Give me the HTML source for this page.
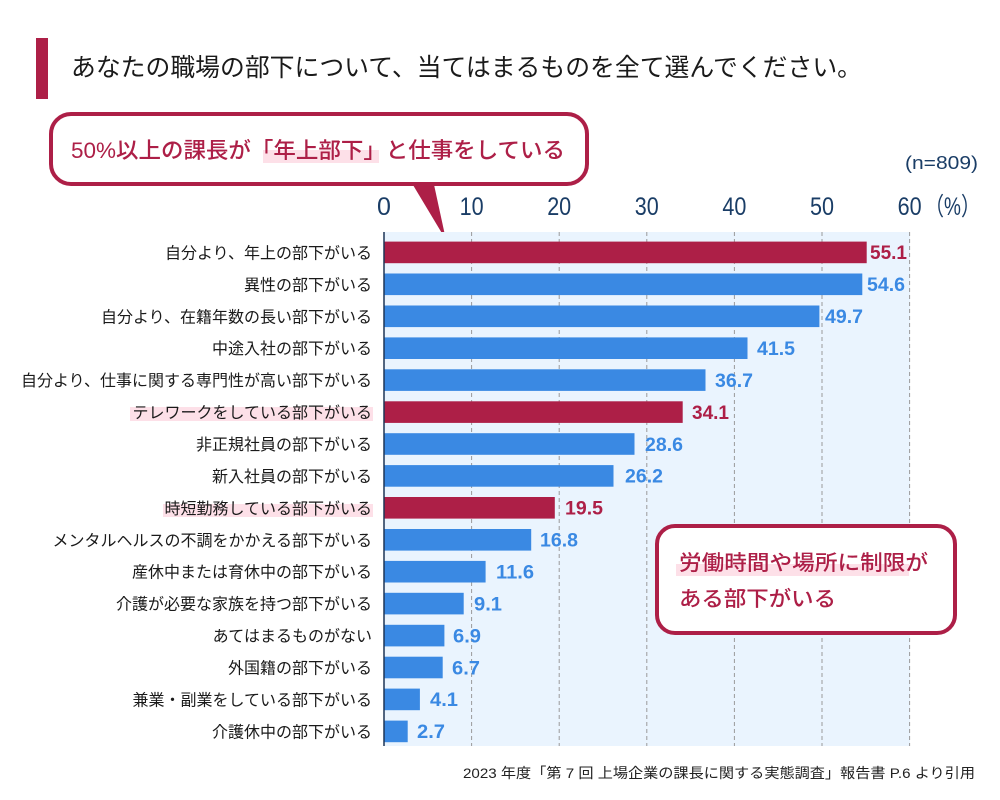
<!DOCTYPE html>
<html>
<head>
<meta charset="utf-8">
<style>
  html,body{margin:0;padding:0;background:#fff;}
  svg{display:block;}
  .jp{font-family:"Liberation Sans","Noto Sans CJK JP",sans-serif;}
  .num{font-family:"Liberation Sans","Noto Sans CJK JP",sans-serif;}
</style>
</head>
<body>
<svg width="1000" height="800" viewBox="0 0 1000 800" xmlns="http://www.w3.org/2000/svg">
  <rect x="0" y="0" width="1000" height="800" fill="#ffffff"/>

  <!-- Title -->
  <rect x="36" y="38" width="12" height="61" fill="#ad1f47"/>
  <text class="jp" x="71" y="76" font-size="25" fill="#1a1a1a" textLength="791" lengthAdjust="spacingAndGlyphs">あなたの職場の部下について、当てはまるものを全て選んでください。</text>

  <!-- Callout 1 -->
  <polygon points="410,180 433,180 446,240" fill="#ad1f47"/>
  <rect x="51" y="114" width="536" height="70" rx="20" ry="20" fill="#ffffff" stroke="#ad1f47" stroke-width="4"/>
  <polygon points="412,184 431,184 433,186" fill="#ad1f47"/>
  <rect x="263" y="150" width="116" height="13" fill="#fde0e8"/>
  <text class="jp" x="71" y="158" font-size="22" font-weight="500" fill="#ad1f47" textLength="494" lengthAdjust="spacingAndGlyphs">50%以上の課長が「年上部下」と仕事をしている</text>

  <!-- n -->
  <text class="num" x="905" y="169" font-size="18" fill="#1a3d66" textLength="73" lengthAdjust="spacingAndGlyphs">(n=809)</text>

  <!-- Tick labels -->
  <g class="num" font-size="25" fill="#1a3d66" text-anchor="middle">
    <text x="384" y="215">0</text>
    <text x="471.6" y="215" textLength="24" lengthAdjust="spacingAndGlyphs">10</text>
    <text x="559.2" y="215" textLength="24" lengthAdjust="spacingAndGlyphs">20</text>
    <text x="646.8" y="215" textLength="24" lengthAdjust="spacingAndGlyphs">30</text>
    <text x="734.4" y="215" textLength="24" lengthAdjust="spacingAndGlyphs">40</text>
    <text x="822" y="215" textLength="24" lengthAdjust="spacingAndGlyphs">50</text>
    <text x="909.6" y="215" textLength="24" lengthAdjust="spacingAndGlyphs">60</text>
  </g>
  <text class="jp" x="925" y="215" font-size="25" fill="#1a3d66" textLength="55" lengthAdjust="spacingAndGlyphs">（%）</text>

  <!-- Plot background -->
  <rect x="384" y="232" width="526" height="514" fill="#eaf4fe"/>
  <g stroke="#9a9a9a" stroke-width="1" stroke-dasharray="4,3">
    <line x1="471.6" y1="232" x2="471.6" y2="746"/>
    <line x1="559.2" y1="232" x2="559.2" y2="746"/>
    <line x1="646.8" y1="232" x2="646.8" y2="746"/>
    <line x1="734.4" y1="232" x2="734.4" y2="746"/>
    <line x1="822" y1="232" x2="822" y2="746"/>
    <line x1="909.6" y1="232" x2="909.6" y2="746"/>
  </g>

  <!-- Bars -->
  <g>
    <rect x="384" y="241.6" width="482.7" height="21.6" fill="#ad1f47"/>
    <rect x="384" y="273.5" width="478.3" height="21.6" fill="#3a89e3"/>
    <rect x="384" y="305.5" width="435.4" height="21.6" fill="#3a89e3"/>
    <rect x="384" y="337.4" width="363.5" height="21.6" fill="#3a89e3"/>
    <rect x="384" y="369.3" width="321.5" height="21.6" fill="#3a89e3"/>
    <rect x="384" y="401.3" width="298.7" height="21.6" fill="#ad1f47"/>
    <rect x="384" y="433.2" width="250.5" height="21.6" fill="#3a89e3"/>
    <rect x="384" y="465.1" width="229.5" height="21.6" fill="#3a89e3"/>
    <rect x="384" y="497.0" width="170.8" height="21.6" fill="#ad1f47"/>
    <rect x="384" y="529.0" width="147.2" height="21.6" fill="#3a89e3"/>
    <rect x="384" y="560.9" width="101.6" height="21.6" fill="#3a89e3"/>
    <rect x="384" y="592.8" width="79.7" height="21.6" fill="#3a89e3"/>
    <rect x="384" y="624.8" width="60.4" height="21.6" fill="#3a89e3"/>
    <rect x="384" y="656.7" width="58.7" height="21.6" fill="#3a89e3"/>
    <rect x="384" y="688.6" width="35.9" height="21.6" fill="#3a89e3"/>
    <rect x="384" y="720.6" width="23.7" height="21.6" fill="#3a89e3"/>
  </g>

  <!-- Axis line -->
  <line x1="384" y1="232" x2="384" y2="746" stroke="#1d3557" stroke-width="1.5"/>

  <!-- Value labels -->
  <g class="num" font-size="19" font-weight="bold">
    <text x="870" y="259.2" fill="#ad1f47" textLength="37" lengthAdjust="spacingAndGlyphs">55.1</text>
    <text x="867" y="291.1" fill="#3a89e3" textLength="38" lengthAdjust="spacingAndGlyphs">54.6</text>
    <text x="825" y="323.1" fill="#3a89e3" textLength="38" lengthAdjust="spacingAndGlyphs">49.7</text>
    <text x="757" y="355.0" fill="#3a89e3" textLength="38" lengthAdjust="spacingAndGlyphs">41.5</text>
    <text x="715" y="386.9" fill="#3a89e3" textLength="38" lengthAdjust="spacingAndGlyphs">36.7</text>
    <text x="692" y="418.9" fill="#ad1f47" textLength="37" lengthAdjust="spacingAndGlyphs">34.1</text>
    <text x="645" y="450.8" fill="#3a89e3" textLength="38" lengthAdjust="spacingAndGlyphs">28.6</text>
    <text x="625" y="482.7" fill="#3a89e3" textLength="38" lengthAdjust="spacingAndGlyphs">26.2</text>
    <text x="565" y="514.6" fill="#ad1f47" textLength="38" lengthAdjust="spacingAndGlyphs">19.5</text>
    <text x="540" y="546.6" fill="#3a89e3" textLength="38" lengthAdjust="spacingAndGlyphs">16.8</text>
    <text x="496" y="578.5" fill="#3a89e3" textLength="38" lengthAdjust="spacingAndGlyphs">11.6</text>
    <text x="474" y="610.4" fill="#3a89e3" textLength="28" lengthAdjust="spacingAndGlyphs">9.1</text>
    <text x="453" y="642.4" fill="#3a89e3" textLength="28" lengthAdjust="spacingAndGlyphs">6.9</text>
    <text x="452" y="674.3" fill="#3a89e3" textLength="28" lengthAdjust="spacingAndGlyphs">6.7</text>
    <text x="430" y="706.2" fill="#3a89e3" textLength="28" lengthAdjust="spacingAndGlyphs">4.1</text>
    <text x="417" y="738.2" fill="#3a89e3" textLength="28" lengthAdjust="spacingAndGlyphs">2.7</text>
  </g>

  <!-- Category label highlights -->
  <rect x="130" y="407" width="243" height="14" fill="#fde0e8"/>
  <rect x="163" y="504" width="210" height="13" fill="#fde0e8"/>

  <!-- Category labels -->
  <g class="jp" font-size="16" fill="#1a1a1a" text-anchor="end">
    <text x="372" y="258.4">自分より、年上の部下がいる</text>
    <text x="372" y="290.3">異性の部下がいる</text>
    <text x="372" y="322.3">自分より、在籍年数の長い部下がいる</text>
    <text x="372" y="354.2">中途入社の部下がいる</text>
    <text x="372" y="386.1">自分より、仕事に関する専門性が高い部下がいる</text>
    <text x="372" y="418.1">テレワークをしている部下がいる</text>
    <text x="372" y="450.0">非正規社員の部下がいる</text>
    <text x="372" y="481.9">新入社員の部下がいる</text>
    <text x="372" y="513.8">時短勤務している部下がいる</text>
    <text x="372" y="545.8">メンタルヘルスの不調をかかえる部下がいる</text>
    <text x="372" y="577.7">産休中または育休中の部下がいる</text>
    <text x="372" y="609.6">介護が必要な家族を持つ部下がいる</text>
    <text x="372" y="641.6">あてはまるものがない</text>
    <text x="372" y="673.5">外国籍の部下がいる</text>
    <text x="372" y="705.4">兼業・副業をしている部下がいる</text>
    <text x="372" y="737.4">介護休中の部下がいる</text>
  </g>

  <!-- Callout 2 -->
  <rect x="657" y="526" width="298" height="107" rx="18" ry="18" fill="#ffffff" stroke="#ad1f47" stroke-width="4"/>
  <rect x="676" y="564" width="233" height="12" fill="#fde0e8"/>
  <text class="jp" x="679" y="570" font-size="21" font-weight="500" fill="#ad1f47" textLength="249" lengthAdjust="spacingAndGlyphs">労働時間や場所に制限が</text>
  <text class="jp" x="679" y="606" font-size="21" font-weight="500" fill="#ad1f47" textLength="157" lengthAdjust="spacingAndGlyphs">ある部下がいる</text>

  <!-- Footer -->
  <text class="jp" x="463" y="778" font-size="14" fill="#222222" textLength="512" lengthAdjust="spacingAndGlyphs">2023 年度「第 7 回 上場企業の課長に関する実態調査」報告書 P.6 より引用</text>
</svg>
</body>
</html>
